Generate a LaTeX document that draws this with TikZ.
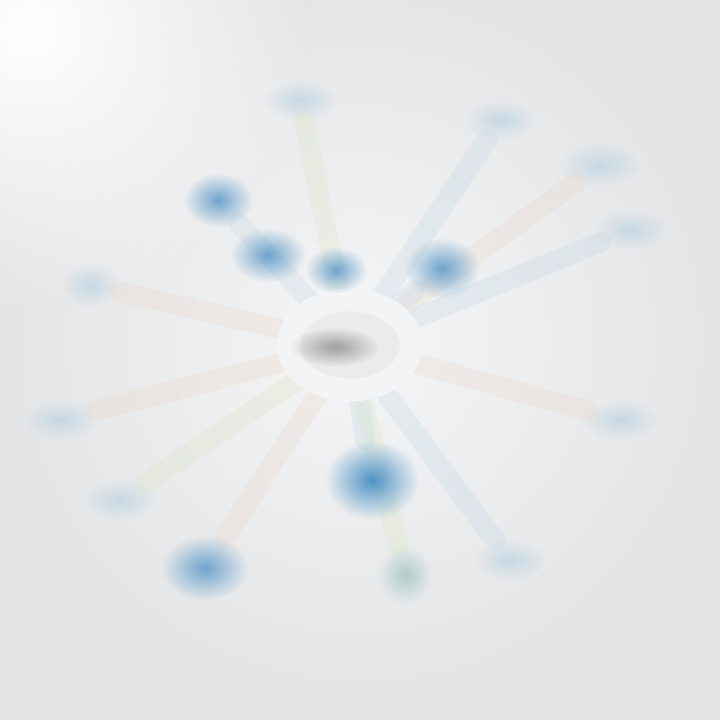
\documentclass[tikz,border=0pt]{standalone}
\usetikzlibrary{shapes.geometric,backgrounds,fadings}
\definecolor{bg}{HTML}{E1E3E5}
\definecolor{bglight}{HTML}{F5F6F7}
\definecolor{blob}{HTML}{6FA4CC}
\definecolor{blobdeep}{HTML}{4F94C6}
\definecolor{paleA}{HTML}{C6D8E4}
\definecolor{paleB}{HTML}{EAD8CA}
\definecolor{paleC}{HTML}{DCE6C6}
\definecolor{ring}{HTML}{F3F4F5}
\tikzfading[name=glow, inner color=transparent!0, outer color=transparent!100]
\tikzset{
  x=0.01389cm, y=-0.01389cm,
  bluesoft/.style={ellipse, fill=blob, path fading=glow},
  bluedeep/.style={ellipse, fill=blobdeep, path fading=glow},
  palesoft/.style={ellipse, fill=paleA, path fading=glow},
  spoke/.style={line width=8pt, line cap=round, opacity=0.3},
}
\begin{document}
\begin{tikzpicture}
\useasboundingbox (0,0) rectangle (720,720);
% central hub
\node[ellipse, minimum width=1.7cm, minimum height=1.25cm, draw=ring, line width=9pt, fill=bg!70!white] (hub) at (350,345) {};
\node[ellipse, minimum width=1.25cm, minimum height=0.55cm, fill=gray!75, path fading=glow] (core) at (335,347) {};
% blobs
\node[bluesoft, minimum width=0.95cm, minimum height=0.75cm] (b1) at (218,200) {};
\node[bluesoft, minimum width=1.05cm, minimum height=0.75cm] (b2) at (268,255) {};
\node[bluesoft, minimum width=0.85cm, minimum height=0.65cm] (b3) at (336,270) {};
\node[bluesoft, minimum width=1.05cm, minimum height=0.85cm] (b4) at (442,268) {};
\node[bluedeep, minimum width=1.3cm, minimum height=1.1cm] (b5) at (372,480) {};
\node[bluesoft, minimum width=1.2cm, minimum height=0.9cm] (b6) at (205,568) {};
\node[palesoft, minimum width=1.1cm, minimum height=0.6cm] (b7) at (600,165) {};
\node[palesoft, minimum width=0.8cm, minimum height=0.6cm] (b8) at (90,285) {};
\node[palesoft, minimum width=1.0cm, minimum height=0.55cm] (b9) at (500,120) {};
\node[palesoft, minimum width=1.0cm, minimum height=0.55cm] (b10) at (620,420) {};
\node[palesoft, minimum width=1.0cm, minimum height=0.55cm] (b11) at (60,420) {};
\node[palesoft, minimum width=1.0cm, minimum height=0.55cm] (b12) at (510,560) {};
\node[ellipse, minimum width=0.75cm, minimum height=0.8cm, fill=paleC!60!blob, path fading=glow] (b13) at (405,575) {};
\node[palesoft, minimum width=1.0cm, minimum height=0.55cm] (b14) at (300,100) {};
\node[palesoft, minimum width=1.0cm, minimum height=0.55cm] (b15) at (630,230) {};
\node[palesoft, minimum width=1.0cm, minimum height=0.55cm] (b16) at (120,500) {};
\begin{pgfonlayer}{background}
\fill[bg] (0,0) rectangle (720,720);
\fill[bglight, path fading=glow] (360,340) circle (400);
\fill[white, path fading=glow] (30,30) circle (280);
\draw[spoke, paleB] (hub) -- (b8);
\draw[spoke, paleA] (hub) -- (b1);
\draw[spoke, paleC] (hub) -- (b14);
\draw[spoke, paleA] (hub) -- (b9);
\draw[spoke, paleB] (hub) -- (b7);
\draw[spoke, paleA] (hub) -- (b15);
\draw[spoke, paleB] (hub) -- (b10);
\draw[spoke, paleA] (hub) -- (b12);
\draw[spoke, paleC] (hub) -- (b13);
\draw[spoke, paleA] (hub) -- (b5);
\draw[spoke, paleB] (hub) -- (b6);
\draw[spoke, paleC] (hub) -- (b16);
\draw[spoke, paleB] (hub) -- (b11);
\draw[spoke, paleA] (hub) -- (b4);
\end{pgfonlayer}
\end{tikzpicture}
\end{document}
